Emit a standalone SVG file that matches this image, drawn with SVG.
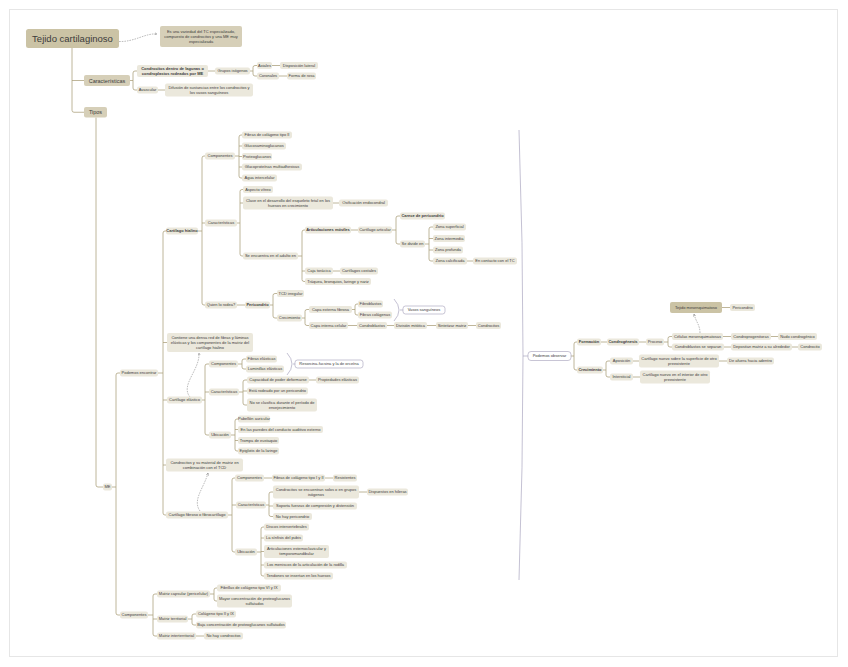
<svg xmlns="http://www.w3.org/2000/svg" width="848" height="667" viewBox="0 0 848 667">
<style>
.n{fill:#ebe8dc}
.m{fill:#d6cfb8}
.r{fill:#cbc3a5}
.w{fill:#fff;stroke:#a29eb9;stroke-width:0.6}
text{font-family:"Liberation Sans",Arial,sans-serif;font-size:4px;fill:#3b3b3b;text-anchor:middle}
.b{font-weight:bold}
.c{fill:none;stroke:#a99d78;stroke-width:0.75}
.d{fill:none;stroke:#8e8e8e;stroke-width:0.6;stroke-dasharray:1.6 1}
.br{fill:none;stroke:#aaa6c0;stroke-width:0.7}
</style>
<defs>
<marker id="ah" viewBox="0 0 6 6" refX="5" refY="3" markerWidth="5" markerHeight="5" orient="auto"><path d="M0,0.5 L5,3 L0,5.5" fill="none" stroke="#888" stroke-width="1"/></marker>
</defs>
<rect x="0" y="0" width="848" height="667" fill="#fff"/>
<rect x="9.5" y="9.5" width="828" height="647" fill="none" stroke="#e6e6e6" stroke-width="1"/>

<g id="connectors">
<path class="c" d="M72,48 V110.25 Q72,112.25 74,112.25 H84 M72,80.5 H84"/>
<path class="c" d="M130,80.5 H133 M137,71 H135 Q133,71 133,73 V88 Q133,90 135,90 H137"/>
<path class="c" d="M208,71 H215"/>
<path class="c" d="M250,71 H253 M257,65.5 H255 Q253,65.5 253,67.5 V74 Q253,76 255,76 H257"/>
<path class="c" d="M272,65.5 H280 M279,76 H287"/>
<path class="c" d="M158,90 H165"/>
<path class="c" d="M96,117.5 V485 Q96,487 98,487 H103"/>
<path class="c" d="M112,487 H116 M120,373 H118 Q116,373 116,375 V613 Q116,615 118,615 H120"/>
<path class="c" d="M158,373 H163 M166,231 H165 Q163,231 163,233 V513 Q163,515 165,515 H166 M163,342.5 H167 M163,400 H167 M163,465 H166"/>
<path class="c" d="M198,231 H202 M205,156 H204 Q202,156 202,158 V303 Q202,305 204,305 H205 M202,223 H205"/>
<path class="c" d="M235,156 H239 M242,135 H241 Q239,135 239,137 V176 Q239,178 241,178 H242 M239,146 H242 M239,156.5 H242 M239,167 H242"/>
<path class="c" d="M237,223 H240 M243,189.5 H242 Q240,189.5 240,191.5 V254 Q240,256 242,256 H243 M240,203 H243"/>
<path class="c" d="M333,203 H339"/>
<path class="c" d="M298,256 H302 M305,230 H304 Q302,230 302,232 V279.5 Q302,281.5 304,281.5 H305 M302,271 H305"/>
<path class="c" d="M351,230 H358"/>
<path class="c" d="M392,230 H396 M400,216 H398 Q396,216 396,218 V242 Q396,244 398,244 H400"/>
<path class="c" d="M425,244 H429 M433,227 H431 Q429,227 429,229 V259 Q429,261 431,261 H433 M429,238.5 H433 M429,250 H433"/>
<path class="c" d="M467,261 H473"/>
<path class="c" d="M333,271 H340"/>
<path class="c" d="M237,305 H245"/>
<path class="c" d="M270,305 H273 M277,293.5 H275 Q273,293.5 273,295.5 V316 Q273,318 275,318 H277"/>
<path class="c" d="M302,318 H305 M309,309.5 H307 Q305,309.5 305,311.5 V323.5 Q305,325.5 307,325.5 H309"/>
<path class="c" d="M352,309.5 H355 M358,304 H357 Q355,304 355,306 V313 Q355,315 357,315 H358"/>
<path class="c" d="M348,325.5 H357 M387,325.5 H394 M427,325.5 H436 M468,325.5 H476"/>
<path class="c" d="M202,400 H205 M209,364 H207 Q205,364 205,366 V433 Q205,435 207,435 H209 M205,392 H209"/>
<path class="c" d="M238,364 H242 M246,359 H244 Q242,359 242,361 V367 Q242,369 244,369 H246"/>
<path class="c" d="M239,392 H243 M247,380 H245 Q243,380 243,382 V403 Q243,405 245,405 H247 M243,391 H247"/>
<path class="c" d="M309,380 H316"/>
<path class="c" d="M231,435 H235 M238,419 H237 Q235,419 235,421 V449 Q235,451 237,451 H238 M235,429.5 H238 M235,440.5 H238"/>
<path class="c" d="M228,515 H232 M235,478 H234 Q232,478 232,480 V550 Q232,552 234,552 H235 M232,505 H236"/>
<path class="c" d="M264,478 H272 M325,478 H333"/>
<path class="c" d="M266,505 H269 M273,492 H271 Q269,492 269,494 V514.5 Q269,516.5 271,516.5 H273 M269,506 H273"/>
<path class="c" d="M359,492 H367"/>
<path class="c" d="M257,552 H261 M264,527 H263 Q261,527 261,529 V574 Q261,576 263,576 H264 M261,538 H264 M261,551.5 H264 M261,565 H264"/>
<path class="c" d="M148,615 H153 M157,594 H155 Q153,594 153,596 V634 Q153,636 155,636 H157 M153,619 H157"/>
<path class="c" d="M210,594 H214 M217,588 H216 Q214,588 214,590 V599 Q214,601 216,601 H217"/>
<path class="c" d="M188,619 H192 M196,614 H194 Q192,614 192,616 V623 Q192,625 194,625 H196"/>
<path class="c" d="M196,636 H204"/>
<path class="c" d="M571,356 H574 M577,342 H576 Q574,342 574,344 V368 Q574,370 576,370 H577"/>
<path class="c" d="M601,342 H607 M639,342 H646"/>
<path class="c" d="M664,342 H668 M672,336.5 H670 Q668,336.5 668,338.5 V345 Q668,347 670,347 H672"/>
<path class="c" d="M723,336.5 H731 M771,336.5 H778"/>
<path class="c" d="M724,347 H731 M792,347 H798"/>
<path class="c" d="M722,307.5 H730"/>
<path class="c" d="M603,370 H606 M610,361 H608 Q606,361 606,363 V375 Q606,377 608,377 H610"/>
<path class="c" d="M633,361 H639 M719,361 H727"/>
<path class="c" d="M633,377 H640"/>
<path class="br" d="M394,299 Q404,310 394,321 M400,310 H403"/>
<path class="br" d="M287,353 Q297,364 287,375 M293,364 H295"/>
<path class="br" d="M519,130 Q527,355 519,580 M523,356 H528"/>
<path class="d" marker-end="url(#ah)" d="M119,41.5 C135,42 145,33 157,34"/>
<path class="d" marker-end="url(#ah)" d="M190,397 C180,385 200,370 199,353"/>
<path class="d" marker-end="url(#ah)" d="M200,511 C192,500 204,488 208,473"/>
<path class="d" marker-end="url(#ah)" d="M700,333 C700,325 696,322 694,314"/>
</g>

<g id="root"><rect class="r" x="26" y="29" width="93" height="19" rx="2.5"/><text x="72.5" y="42" style="font-size:9.5px">Tejido cartilaginoso</text></g>
<g id="nota"><rect class="m" x="160" y="26" width="82" height="21" rx="2"/><text x="201" y="33.1">Es una variedad del TC especializado,</text><text x="201" y="37.9">compuesto de condrocitos y una ME muy</text><text x="201" y="42.7">especializada</text></g>
<g id="caracteristicas"><rect class="m" x="84" y="75" width="46" height="11" rx="2"/><text x="107" y="82.5" style="font-size:5.5px">Características</text></g>
<g id="tipos"><rect class="m" x="84" y="107" width="23" height="10.5" rx="2"/><text x="95.5" y="114.2" style="font-size:5.5px">Tipos</text></g>

<g id="condrocitos-lagunas"><rect class="n" x="137" y="65" width="71" height="12" rx="2"/><text class="b" x="172.5" y="69.9">Condrocitos dentro de lagunas o</text><text class="b" x="172.5" y="74.9">condroplastos rodeados por ME</text></g>
<g id="avascular"><rect class="n" x="137" y="86.5" width="21" height="7" rx="2"/><text x="147.5" y="91.4">Avascular</text></g>
<g id="grupos-isogenos"><rect class="n" x="215" y="67.5" width="35" height="7" rx="2"/><text x="232.5" y="72.4">Grupos isógenos</text></g>
<g id="axiales"><rect class="n" x="257" y="62" width="15" height="7" rx="2"/><text x="264.5" y="66.9">Axiales</text></g>
<g id="disposicion"><rect class="n" x="280" y="62" width="38" height="7" rx="2"/><text x="299" y="66.9">Disposición lateral</text></g>
<g id="coronales"><rect class="n" x="257" y="72.5" width="22" height="7" rx="2"/><text x="268" y="77.4">Coronales</text></g>
<g id="forma-rosa"><rect class="n" x="287" y="72.5" width="29" height="7" rx="2"/><text x="301.5" y="77.4">Forma de rosa</text></g>
<g id="difusion"><rect class="n" x="165" y="83.5" width="88" height="13" rx="2"/><text x="209" y="88.9">Difusión de sustancias entre los condrocitos y</text><text x="209" y="93.9">los vasos sanguíneos</text></g>

<g id="me"><rect class="n" x="103" y="483.5" width="9" height="7" rx="2"/><text x="107.5" y="488.4">ME</text></g>
<g id="podemos-encontrar"><rect class="n" x="120" y="369.5" width="38" height="7" rx="2"/><text x="139" y="374.4">Podemos encontrar</text></g>
<g id="componentes-me"><rect class="n" x="120" y="611.5" width="28" height="7" rx="2"/><text x="134" y="616.4">Componentes</text></g>

<g id="hialino"><rect class="n" x="166" y="227.5" width="32" height="7" rx="2"/><text class="b" x="182" y="232.4">Cartílago hialino</text></g>
<g id="contiene"><rect class="n" x="167" y="333" width="86" height="19" rx="2"/><text x="210" y="339.1">Contiene una densa red de fibras y láminas</text><text x="210" y="343.9">elásticas y los componentes de la matriz del</text><text x="210" y="348.7">cartílago hialino</text></g>
<g id="elastico"><rect class="n" x="167" y="396.5" width="35" height="7" rx="2"/><text x="184.5" y="401.4">Cartílago elástico</text></g>
<g id="condrocitos-tcd"><rect class="n" x="166" y="458.5" width="77" height="13" rx="2"/><text x="204.5" y="463.9">Condrocitos y su material de matriz en</text><text x="204.5" y="468.9">combinación con el TCD</text></g>
<g id="fibroso"><rect class="n" x="166" y="511.5" width="62" height="7" rx="2"/><text x="197" y="516.4">Cartílago fibroso o fibrocartílago</text></g>

<g id="h-componentes"><rect class="n" x="205" y="152.5" width="30" height="7" rx="2"/><text x="220" y="157.4">Componentes</text></g>
<g id="h-fibras"><rect class="n" x="242" y="131.5" width="50" height="7" rx="2"/><text x="267" y="136.4">Fibras de colágeno tipo II</text></g>
<g id="h-gag"><rect class="n" x="242" y="142.5" width="44" height="7" rx="2"/><text x="264" y="147.4">Glucosaminoglucanos</text></g>
<g id="h-proteo"><rect class="n" x="242" y="153" width="30" height="7" rx="2"/><text x="257" y="157.9">Proteoglucanos</text></g>
<g id="h-gluco"><rect class="n" x="242" y="163.5" width="60" height="7" rx="2"/><text x="272" y="168.4">Glucoproteínas multiadhesivas</text></g>
<g id="h-agua"><rect class="n" x="242" y="174.5" width="35" height="7" rx="2"/><text x="259.5" y="179.4">Agua intercelular</text></g>
<g id="h-caract"><rect class="n" x="205" y="219.5" width="32" height="7" rx="2"/><text x="221" y="224.4">Características</text></g>
<g id="h-aspecto"><rect class="n" x="243" y="186" width="30" height="7" rx="2"/><text x="258" y="190.9">Aspecto vítreo</text></g>
<g id="h-clave"><rect class="n" x="243" y="196.5" width="90" height="13" rx="2"/><text x="288" y="201.9">Clave en el desarrollo del esqueleto fetal en los</text><text x="288" y="206.9">huesos en crecimiento</text></g>
<g id="h-osificacion"><rect class="n" x="339" y="199.5" width="49" height="7" rx="2"/><text x="363.5" y="204.4">Osificación endocondral</text></g>
<g id="h-adulto"><rect class="n" x="243" y="252.5" width="55" height="7" rx="2"/><text x="270.5" y="257.4">Se encuentra en el adulto en</text></g>
<g id="h-articulaciones"><rect class="n" x="305" y="226.5" width="46" height="7" rx="2"/><text class="b" x="328" y="231.4">Articulaciones móviles</text></g>
<g id="h-articular"><rect class="n" x="358" y="226.5" width="34" height="7" rx="2"/><text x="375" y="231.4">Cartílago articular</text></g>
<g id="h-carece"><rect class="n" x="400" y="212.5" width="45" height="7" rx="2"/><text class="b" x="422.5" y="217.4">Carece de pericondrio</text></g>
<g id="h-divide"><rect class="n" x="400" y="240.5" width="25" height="7" rx="2"/><text x="412.5" y="245.4">Se divide en</text></g>
<g id="h-zona1"><rect class="n" x="433" y="223.5" width="33" height="7" rx="2"/><text x="449.5" y="228.4">Zona superficial</text></g>
<g id="h-zona2"><rect class="n" x="433" y="235" width="32" height="7" rx="2"/><text x="449" y="239.9">Zona intermedia</text></g>
<g id="h-zona3"><rect class="n" x="433" y="246.5" width="30" height="7" rx="2"/><text x="448" y="251.4">Zona profunda</text></g>
<g id="h-zona4"><rect class="n" x="433" y="257.5" width="34" height="7" rx="2"/><text x="450" y="262.4">Zona calcificada</text></g>
<g id="h-contacto"><rect class="n" x="473" y="257.5" width="44" height="7" rx="2"/><text x="495" y="262.4">En contacto con el TC</text></g>
<g id="h-caja"><rect class="n" x="305" y="267.5" width="28" height="7" rx="2"/><text x="319" y="272.4">Caja torácica</text></g>
<g id="h-costales"><rect class="n" x="340" y="267.5" width="38" height="7" rx="2"/><text x="359" y="272.4">Cartílagos costales</text></g>
<g id="h-traquea"><rect class="n" x="305" y="278" width="66" height="7" rx="2"/><text x="338" y="282.9">Tráquea, bronquios, laringe y nariz</text></g>
<g id="h-quien"><rect class="n" x="205" y="301.5" width="32" height="7" rx="2"/><text x="221" y="306.4">Quien lo rodea?</text></g>
<g id="h-pericondrio"><rect class="n" x="245" y="301.5" width="25" height="7" rx="2"/><text class="b" x="257.5" y="306.4">Pericondrio</text></g>
<g id="h-tcd"><rect class="n" x="277" y="290" width="27" height="7" rx="2"/><text x="290.5" y="294.9">TCD irregular</text></g>
<g id="h-crecimiento"><rect class="n" x="277" y="314.5" width="25" height="7" rx="2"/><text x="289.5" y="319.4">Crecimiento</text></g>
<g id="h-externa"><rect class="n" x="309" y="306" width="43" height="7" rx="2"/><text x="330.5" y="310.9">Capa externa fibrosa</text></g>
<g id="h-fibroblastos"><rect class="n" x="358" y="300.5" width="25" height="7" rx="2"/><text x="370.5" y="305.4">Fibroblastos</text></g>
<g id="h-colagenas"><rect class="n" x="358" y="311.5" width="34" height="7" rx="2"/><text x="375" y="316.4">Fibras colágenas</text></g>
<g id="h-vasos"><rect class="w" x="403" y="306" width="42" height="8" rx="2.5"/><text x="424" y="311.4">Vasos sanguíneos</text></g>
<g id="h-interna"><rect class="n" x="309" y="322" width="39" height="7" rx="2"/><text x="328.5" y="326.9">Capa interna celular</text></g>
<g id="h-condroblastos"><rect class="n" x="357" y="322" width="30" height="7" rx="2"/><text x="372" y="326.9">Condroblastos</text></g>
<g id="h-mitotica"><rect class="n" x="394" y="322" width="33" height="7" rx="2"/><text x="410.5" y="326.9">División mitótica</text></g>
<g id="h-sintetizar"><rect class="n" x="436" y="322" width="32" height="7" rx="2"/><text x="452" y="326.9">Sintetizar matriz</text></g>
<g id="h-condrocitos"><rect class="n" x="476" y="322" width="25" height="7" rx="2"/><text x="488.5" y="326.9">Condrocitos</text></g>

<g id="e-componentes"><rect class="n" x="209" y="360.5" width="29" height="7" rx="2"/><text x="223.5" y="365.4">Componentes</text></g>
<g id="e-fibras"><rect class="n" x="246" y="355.5" width="31" height="7" rx="2"/><text x="261.5" y="360.4">Fibras elásticas</text></g>
<g id="e-laminillas"><rect class="n" x="246" y="365.5" width="38" height="7" rx="2"/><text x="265" y="370.4">Laminillas elásticas</text></g>
<g id="e-resorcina"><rect class="w" x="295" y="360" width="68" height="8" rx="2.5"/><text x="329" y="365.4">Resorcina-fucsina y la de orceína</text></g>
<g id="e-caract"><rect class="n" x="209" y="388.5" width="30" height="7" rx="2"/><text x="224" y="393.4">Características</text></g>
<g id="e-capacidad"><rect class="n" x="247" y="376.5" width="62" height="7" rx="2"/><text x="278" y="381.4">Capacidad de poder deformarse</text></g>
<g id="e-propiedades"><rect class="n" x="316" y="376.5" width="43" height="7" rx="2"/><text x="337.5" y="381.4">Propiedades elásticas</text></g>
<g id="e-rodeado"><rect class="n" x="247" y="387.5" width="61" height="7" rx="2"/><text x="277.5" y="392.4">Está rodeado por un pericondrio</text></g>
<g id="e-noclasifica"><rect class="n" x="247" y="398.5" width="70" height="13" rx="2"/><text x="282" y="403.9">No se clasifica durante el período de</text><text x="282" y="408.9">envejecimiento</text></g>
<g id="e-ubicacion"><rect class="n" x="209" y="431.5" width="22" height="7" rx="2"/><text x="220" y="436.4">Ubicación</text></g>
<g id="e-pabellon"><rect class="n" x="238" y="415.5" width="32" height="7" rx="2"/><text x="254" y="420.4">Pabellón auricular</text></g>
<g id="e-paredes"><rect class="n" x="238" y="426" width="85" height="7" rx="2"/><text x="280.5" y="430.9">En las paredes del conducto auditivo externo</text></g>
<g id="e-trompa"><rect class="n" x="238" y="437" width="41" height="7" rx="2"/><text x="258.5" y="441.9">Trompa de eustaquio</text></g>
<g id="e-epiglotis"><rect class="n" x="238" y="447.5" width="41" height="7" rx="2"/><text x="258.5" y="452.4">Epiglotis de la laringe</text></g>

<g id="f-componentes"><rect class="n" x="235" y="474.5" width="29" height="7" rx="2"/><text x="249.5" y="479.4">Componentes</text></g>
<g id="f-fibras"><rect class="n" x="272" y="474.5" width="53" height="7" rx="2"/><text x="298.5" y="479.4">Fibras de colágeno tipo I y II</text></g>
<g id="f-resistentes"><rect class="n" x="333" y="474.5" width="24" height="7" rx="2"/><text x="345" y="479.4">Resistentes</text></g>
<g id="f-caract"><rect class="n" x="236" y="501.5" width="30" height="7" rx="2"/><text x="251" y="506.4">Características</text></g>
<g id="f-solos"><rect class="n" x="273" y="485.5" width="86" height="13" rx="2"/><text x="316" y="490.9">Condrocitos se encuentran solos o en grupos</text><text x="316" y="495.9">isógenos</text></g>
<g id="f-hileras"><rect class="n" x="367" y="488.5" width="41" height="7" rx="2"/><text x="387.5" y="493.4">Dispuestos en hileras</text></g>
<g id="f-soporta"><rect class="n" x="273" y="502.5" width="84" height="7" rx="2"/><text x="315" y="507.4">Soporta fuerzas de compresión y distensión</text></g>
<g id="f-nohay"><rect class="n" x="273" y="513" width="39" height="7" rx="2"/><text x="292.5" y="517.9">No hay pericondrio</text></g>
<g id="f-ubicacion"><rect class="n" x="235" y="548.5" width="22" height="7" rx="2"/><text x="246" y="553.4">Ubicación</text></g>
<g id="f-discos"><rect class="n" x="264" y="523.5" width="45" height="7" rx="2"/><text x="286.5" y="528.4">Discos intervertebrales</text></g>
<g id="f-sinfisis"><rect class="n" x="264" y="534.5" width="39" height="7" rx="2"/><text x="283.5" y="539.4">La sínfisis del pubis</text></g>
<g id="f-esterno"><rect class="n" x="264" y="545" width="65" height="13" rx="2"/><text x="296.5" y="550.4">Articulaciones esternoclavicular y</text><text x="296.5" y="555.4">temporomandibular</text></g>
<g id="f-meniscos"><rect class="n" x="264" y="561.5" width="83" height="7" rx="2"/><text x="305.5" y="566.4">Los meniscos de la articulación de la rodilla</text></g>
<g id="f-tendones"><rect class="n" x="264" y="572.5" width="69" height="7" rx="2"/><text x="298.5" y="577.4">Tendones se insertan en los huesos</text></g>

<g id="m-capsular"><rect class="n" x="157" y="590.5" width="53" height="7" rx="2"/><text x="183.5" y="595.4">Matriz capsular (pericelular)</text></g>
<g id="m-fibrillas"><rect class="n" x="217" y="584.5" width="64" height="7" rx="2"/><text x="249" y="589.4">Fibrillas de colágeno tipo VI y IX</text></g>
<g id="m-mayor"><rect class="n" x="217" y="594.5" width="75" height="13" rx="2"/><text x="254.5" y="599.9">Mayor concentración de proteoglucanos</text><text x="254.5" y="604.9">sulfatados</text></g>
<g id="m-territorial"><rect class="n" x="157" y="615.5" width="31" height="7" rx="2"/><text x="172.5" y="620.4">Matriz territorial</text></g>
<g id="m-colageno"><rect class="n" x="196" y="610.5" width="40" height="7" rx="2"/><text x="216" y="615.4">Colágeno tipo II y IX</text></g>
<g id="m-baja"><rect class="n" x="196" y="621.5" width="90" height="7" rx="2"/><text x="241" y="626.4">Baja concentración de proteoglucanos sulfatados</text></g>
<g id="m-interterritorial"><rect class="n" x="157" y="632.5" width="39" height="7" rx="2"/><text x="176.5" y="637.4">Matriz interterritorial</text></g>
<g id="m-nohay"><rect class="n" x="204" y="632.5" width="39" height="7" rx="2"/><text x="223.5" y="637.4">No hay condrocitos</text></g>

<g id="podemos-observar"><rect class="w" x="528" y="351.5" width="43" height="9" rx="3"/><text x="549.5" y="357.4">Podemos observar</text></g>
<g id="formacion"><rect class="n" x="577" y="338.5" width="24" height="7" rx="2"/><text class="b" x="589" y="343.4">Formación</text></g>
<g id="condrogenesis"><rect class="n" x="607" y="338.5" width="32" height="7" rx="2"/><text class="b" x="623" y="343.4">Condrogénesis</text></g>
<g id="proceso"><rect class="n" x="646" y="338.5" width="18" height="7" rx="2"/><text x="655" y="343.4">Proceso</text></g>
<g id="celulas-mes"><rect class="n" x="672" y="333" width="51" height="7" rx="2"/><text x="697.5" y="337.9">Células mesenquimatosas</text></g>
<g id="condroprogenitoras"><rect class="n" x="731" y="333" width="40" height="7" rx="2"/><text x="751" y="337.9">Condroprogenitoras</text></g>
<g id="nudo"><rect class="n" x="778" y="333" width="39" height="7" rx="2"/><text x="797.5" y="337.9">Nudo condrogénico</text></g>
<g id="condroblastos-sep"><rect class="n" x="672" y="343.5" width="52" height="7" rx="2"/><text x="698" y="348.4">Condroblastos se separan</text></g>
<g id="depositan"><rect class="n" x="731" y="343.5" width="61" height="7" rx="2"/><text x="761.5" y="348.4">Depositan matriz a su alrededor</text></g>
<g id="condrocito"><rect class="n" x="798" y="343.5" width="24" height="7" rx="2"/><text x="810" y="348.4">Condrocito</text></g>
<g id="tejido-mes"><rect class="r" x="670" y="302" width="52" height="11" rx="2"/><text x="696" y="308.9">Tejido mesenquimatoso</text></g>
<g id="pericondrio-r"><rect class="n" x="730" y="304" width="25" height="7" rx="2"/><text x="742.5" y="308.9">Pericondrio</text></g>
<g id="crecimiento-r"><rect class="n" x="577" y="366.5" width="26" height="7" rx="2"/><text class="b" x="590" y="371.4">Crecimiento</text></g>
<g id="aposicion"><rect class="n" x="610" y="357.5" width="23" height="7" rx="2"/><text x="621.5" y="362.4">Aposición</text></g>
<g id="nuevo-sobre"><rect class="n" x="639" y="354.5" width="80" height="13" rx="2"/><text x="679" y="359.9">Cartílago nuevo sobre la superficie de otro</text><text x="679" y="364.9">preexistente</text></g>
<g id="afuera"><rect class="n" x="727" y="357.5" width="47" height="7" rx="2"/><text x="750.5" y="362.4">De afuera hacia adentro</text></g>
<g id="intersticial"><rect class="n" x="610" y="373.5" width="23" height="7" rx="2"/><text x="621.5" y="378.4">Intersticial</text></g>
<g id="nuevo-interior"><rect class="n" x="640" y="370.5" width="70" height="13" rx="2"/><text x="675" y="375.9">Cartílago nuevo en el interior de otro</text><text x="675" y="380.9">preexistente</text></g>
</svg>
